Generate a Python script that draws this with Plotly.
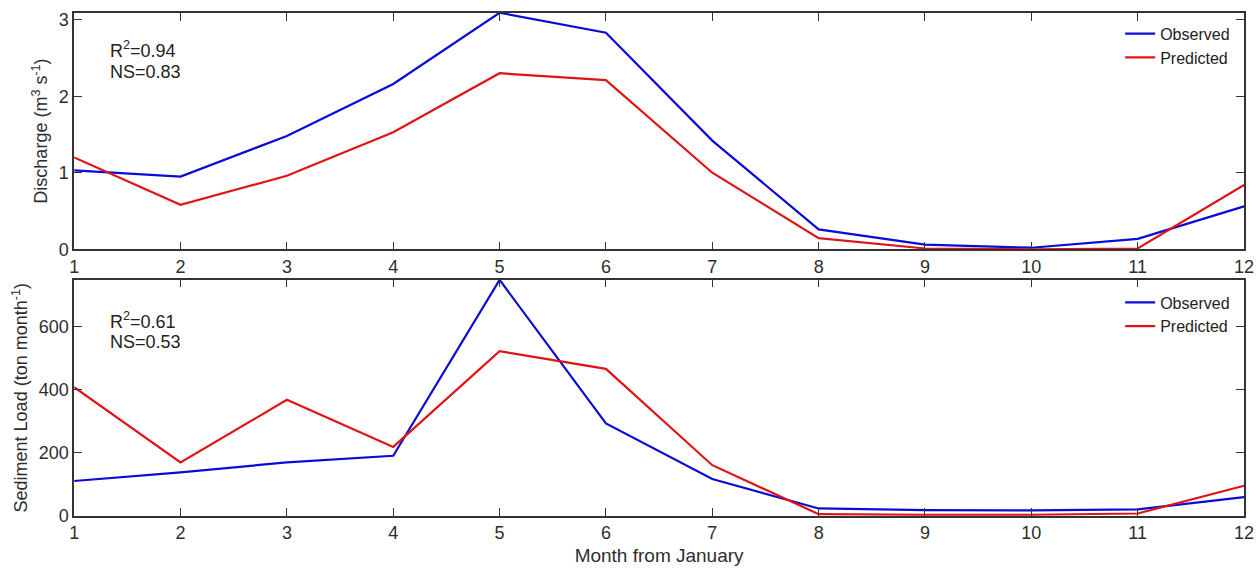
import plotly.graph_objects as go

months = list(range(1, 13))
discharge_obs = [1.03, 0.95, 1.48, 2.16, 3.09, 2.83, 1.42, 0.26, 0.06, 0.02, 0.135, 0.56]
discharge_pred = [1.20, 0.58, 0.96, 1.53, 2.30, 2.21, 1.00, 0.145, 0.01, 0.0, 0.01, 0.84]
sediment_obs = [111, 138, 170, 191, 748, 293, 117, 24, 19, 18, 21, 60]
sediment_pred = [408, 170, 368, 219, 522, 466, 161, 6, 4, 4, 8, 96]
top_stats = ["R<sup>2</sup>=0.94", "NS=0.83"]
bottom_stats = ["R<sup>2</sup>=0.61", "NS=0.53"]

BLUE = "#0b0bd6"
RED = "#e01414"
AXC = "#333333"
TXT = "#2e2e2e"
FONT = "Liberation Sans"

W, H = 1259, 570


def px(x):
    return x / W


def py(y):
    return 1 - y / H


fig = go.Figure()
fig.add_trace(go.Scatter(x=months, y=discharge_obs, mode="lines", name="Observed",
                         line=dict(color=BLUE, width=2.2), xaxis="x", yaxis="y", legend="legend"))
fig.add_trace(go.Scatter(x=months, y=discharge_pred, mode="lines", name="Predicted",
                         line=dict(color=RED, width=2.2), xaxis="x", yaxis="y", legend="legend"))
fig.add_trace(go.Scatter(x=months, y=sediment_obs, mode="lines", name="Observed",
                         line=dict(color=BLUE, width=2.2), xaxis="x2", yaxis="y2", legend="legend2"))
fig.add_trace(go.Scatter(x=months, y=sediment_pred, mode="lines", name="Predicted",
                         line=dict(color=RED, width=2.2), xaxis="x2", yaxis="y2", legend="legend2"))

xdom = [px(70), px(1254)]
axcommon = dict(showline=True, linecolor=AXC, linewidth=1.5, mirror="allticks",
                ticks="inside", ticklen=8, tickwidth=1.3, tickcolor=AXC,
                showgrid=False, zeroline=False, ticklabeloverflow="allow",
                tickfont=dict(family=FONT, size=18, color=TXT))

fig.update_layout(
    width=W, height=H,
    margin=dict(l=0, r=0, t=0, b=0),
    paper_bgcolor="white", plot_bgcolor="white",
    font=dict(family=FONT, size=18, color=TXT),
    xaxis=dict(domain=xdom, range=[1, 12], tickvals=months, anchor="y", **axcommon),
    yaxis=dict(domain=[py(252), py(10)], range=[0, 3.09], tickvals=[0, 1, 2, 3],
               anchor="x",
               title=dict(text="Discharge (m<sup>3</sup> s<sup>-1</sup>)", standoff=6,
                          font=dict(family=FONT, size=18, color=TXT)),
               **axcommon),
    xaxis2=dict(domain=xdom, range=[1, 12], tickvals=months, anchor="y2",
                title=dict(text="Month from January", standoff=6,
                           font=dict(family=FONT, size=19, color=TXT)),
                **axcommon),
    yaxis2=dict(domain=[py(525), py(283)], range=[0, 749], tickvals=[0, 200, 400, 600],
                anchor="x2",
                title=dict(text="Sediment Load (ton month<sup>-1</sup>)", standoff=6,
                           font=dict(family=FONT, size=18, color=TXT)),
                **axcommon),
    legend=dict(x=px(1245), y=py(14), xanchor="right", yanchor="top", bgcolor="rgba(0,0,0,0)",
                font=dict(family=FONT, size=16, color="#222222"), tracegroupgap=0,
                itemwidth=30),
    legend2=dict(x=px(1245), y=py(289), xanchor="right", yanchor="top", bgcolor="rgba(0,0,0,0)",
                 font=dict(family=FONT, size=16, color="#222222"), tracegroupgap=0,
                 itemwidth=30),
)

for i, t in enumerate(top_stats):
    fig.add_annotation(text=t, xref="paper", yref="paper", x=px(104), y=py(48 + 23 * i),
                       xanchor="left", yanchor="middle", showarrow=False,
                       font=dict(family=FONT, size=18, color="#222222"))
for i, t in enumerate(bottom_stats):
    fig.add_annotation(text=t, xref="paper", yref="paper", x=px(104), y=py(325 + 22 * i),
                       xanchor="left", yanchor="middle", showarrow=False,
                       font=dict(family=FONT, size=18, color="#222222"))

fig.write_html("out.html", config={"displayModeBar": False},
               post_script="document.body.style.margin='0';document.body.style.overflow='hidden';")
